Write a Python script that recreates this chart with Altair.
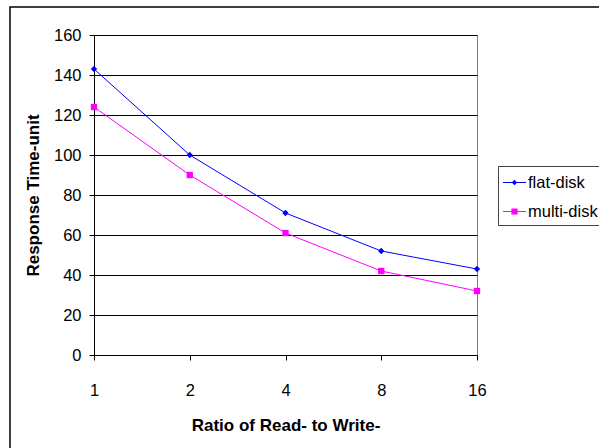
import altair as alt
import pandas as pd

# Response time by read/write ratio, two disk layouts
ratio = ["1", "2", "4", "8", "16"]
flat_disk = [143, 100, 71, 52, 43]
multi_disk = [124, 90, 61, 42, 32]
series = ["flat-disk", "multi-disk"]
colors = ["#0000FF", "#FF00FF"]
y_ticks = [0, 20, 40, 60, 80, 100, 120, 140, 160]

rows = []
for name, vals in zip(series, [flat_disk, multi_disk]):
    for r, v in zip(ratio, vals):
        rows.append({"ratio": r, "time": v, "series": name})
df = pd.DataFrame(rows)

FONT = "Liberation Sans"

x_enc = alt.X(
    "ratio:N",
    sort=ratio,
    scale=alt.Scale(type="point", padding=0),
    axis=alt.Axis(
        title="Ratio of Read- to Write-",
        labelAngle=0,
        labelFont=FONT,
        labelFontSize=16.5,
        labelColor="#000",
        labelPadding=22,
        tickSize=5,
        tickColor="#000",
        domainColor="#000",
        grid=False,
        titleFont=FONT,
        titleFontSize=17,
        titleFontWeight="bold",
        titleColor="#000",
        titleBaseline="alphabetic",
        titleY=75,
    ),
)
y_enc = alt.Y(
    "time:Q",
    scale=alt.Scale(domain=[0, 160], nice=False),
    axis=alt.Axis(
        title="Response Time-unit",
        values=y_ticks,
        labelFont=FONT,
        labelFontSize=16.5,
        labelColor="#000",
        labelPadding=8,
        tickSize=5,
        tickColor="#000",
        domainColor="#000",
        grid=True,
        gridColor="#000",
        gridWidth=1,
        titleFont=FONT,
        titleFontSize=17,
        titleFontWeight="bold",
        titleColor="#000",
        titleBaseline="alphabetic",
        titleAngle=270,
        titleX=-55.5,
        titleY=160,
    ),
)
color_scale = alt.Scale(domain=series, range=colors)
color_enc = alt.Color("series:N", scale=color_scale, title=None)

# legend symbols: a short line with the series marker on it
legend_shapes = [
    "M-1,-0.045L1,-0.045L1,0.045L-1,0.045Z M0,-0.24L0.24,0L0,0.24L-0.24,0Z",
    "M-1,-0.045L1,-0.045L1,0.045L-1,0.045Z M-0.27,-0.27L0.27,-0.27L0.27,0.27L-0.27,0.27Z",
]
shape_enc = alt.Shape(
    "series:N",
    scale=alt.Scale(domain=series, range=legend_shapes),
    title=None,
)

base = alt.Chart(df)

lines = base.mark_line(strokeWidth=1).encode(x=x_enc, y=y_enc, color=color_enc)
flat_pts = base.transform_filter(alt.datum.series == "flat-disk").mark_point(
    shape="diamond", filled=True, size=40, opacity=1
).encode(x=x_enc, y=y_enc, color=color_enc)
multi_pts = base.transform_filter(alt.datum.series == "multi-disk").mark_point(
    shape="square", filled=True, size=40, opacity=1
).encode(x=x_enc, y=y_enc, color=color_enc)
legend_layer = base.mark_point(filled=True, size=0, opacity=1).encode(
    x=x_enc, y=y_enc, color=color_enc, shape=shape_enc
)

frame = alt.Chart(pd.DataFrame({"f": [0]})).mark_rect(
    fill="transparent", stroke="#000", strokeWidth=1.5, clip=False
).encode(
    x=alt.value(-84), x2=alt.value(700), y=alt.value(-28), y2=alt.value(600)
)

chart = (
    alt.layer(frame, lines, flat_pts, multi_pts, legend_layer)
    .properties(
        width=383,
        height=320,
        autosize=alt.AutoSizeParams(type="none"),
        padding={"left": 94, "top": 35, "right": 122, "bottom": 93},
        background="#FFFFFF",
    )
    .configure_view(stroke="#808080", strokeWidth=1)
    .configure_legend(
        orient="none",
        legendX=404,
        legendY=131,
        padding=5,
        rowPadding=9,
        strokeColor="#444",
        fillColor="#FFFFFF",
        symbolSize=529,
        symbolStrokeWidth=0,
        labelFont=FONT,
        labelFontSize=16.5,
        labelColor="#000",
        labelOffset=2,
        labelLimit=300,
    )
)

chart.save("out.html", embed_options={"renderer": "svg", "actions": False})
